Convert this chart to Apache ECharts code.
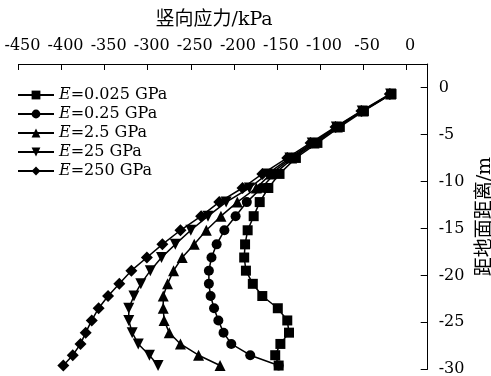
<!DOCTYPE html>
<html>
<head>
<meta charset="utf-8">
<script src="https://cdn.jsdelivr.net/npm/echarts@6/dist/echarts.min.js"></script>
<style>
  html, body { margin: 0; padding: 0; background: #fff; }
  #chart { width: 491px; height: 376px; }
</style>
</head>
<body>
<div id="chart"></div>
<script>
// depth below ground (m), shared by all series
const depthM = [-0.7, -2.5, -4.2, -5.9, -7.5, -9.2, -10.7, -12.2, -13.7, -15.2, -16.7,
  -18.1, -19.5, -20.9, -22.2, -23.5, -24.8, -26.1, -27.3, -28.5, -29.6]

// vertical stress (kPa) for each modulus
const stressE0025 = [-17, -49, -77, -103, -128, -147, -160, -170, -177, -184, -187,
  -188, -186, -178, -167, -149, -138, -136, -146, -152, -148]
const stressE025 = [-18, -50, -79, -105, -131, -153, -168, -185, -198, -211, -220,
  -226, -229, -229, -227, -223, -218, -212, -203, -181, -148]
const stressE2_5 = [-18, -50, -80, -107, -133, -157, -174, -196, -215, -232, -246,
  -260, -270, -277, -282, -282, -281, -275, -262, -241, -216]
const stressE25 = [-18, -51, -81, -109, -135, -161, -182, -209, -230, -250, -268,
  -284, -297, -308, -316, -322, -322, -318, -311, -298, -288]
const stressE250 = [-19, -52, -82, -111, -138, -167, -190, -217, -238, -262, -283,
  -301, -319, -333, -346, -357, -365, -372, -378, -387, -398]

const seriesNames = ['E=0.025 GPa', 'E=0.25 GPa', 'E=2.5 GPa', 'E=25 GPa', 'E=250 GPa']
const seriesValues = [stressE0025, stressE025, stressE2_5, stressE25, stressE250]
const seriesSymbols = ['rect', 'circle', 'triangle', 'triangle', 'diamond']
const symbolRotates = [0, 0, 0, 180, 0]
const symbolSizes = [10, 10, 11, 11, 12]

const serif = "'DejaVu Serif', 'Noto Sans CJK SC', serif"

const chart = echarts.init(document.getElementById('chart'))

chart.setOption({
  animation: false,
  textStyle: { fontFamily: serif, color: '#000' },
  grid: {
    left: 18.5,
    right: 63.3,
    top: 64,
    bottom: 6.7,
    outerBoundsMode: 'none',
  },
  legend: {
    orient: 'vertical',
    left: 17,
    top: 87,
    padding: 0,
    itemWidth: 36,
    itemHeight: 11,
    itemGap: 3,
    data: seriesNames,
    formatter: (name) => name.replace(/^E/, '{i|E}'),
    textStyle: {
      fontFamily: serif,
      fontSize: 16,
      lineHeight: 16,
      color: '#000',
      rich: {
        i: { fontFamily: serif, fontStyle: 'italic', fontSize: 16, color: '#000' },
      },
    },
  },
  xAxis: {
    type: 'value',
    position: 'top',
    min: -450,
    max: 25,
    interval: 50,
    name: '竖向应力/kPa',
    nameLocation: 'middle',
    nameGap: 34,
    nameTextStyle: { fontSize: 19, color: '#000', fontFamily: serif, padding: [0, 18, 0, 0] },
    axisLine: { show: true, onZero: false, lineStyle: { color: '#000', width: 1 } },
    axisTick: { show: true, inside: true, length: 6, lineStyle: { color: '#000' } },
    axisLabel: {
      margin: 10,
      fontSize: 16,
      color: '#000',
      padding: [0, 0, 0, 8],
      showMaxLabel: false,
      formatter: (v) => (v > 0 ? '' : String(v)),
    },
    splitLine: { show: false },
  },
  yAxis: {
    type: 'value',
    position: 'right',
    min: -30,
    max: 2.5,
    interval: 5,
    name: '距地面距离/m',
    nameLocation: 'middle',
    nameGap: 43,
    nameTextStyle: { fontSize: 19, color: '#000', fontFamily: serif },
    axisLine: { show: true, onZero: false, lineStyle: { color: '#000', width: 1 } },
    axisTick: { show: true, inside: true, length: 7, lineStyle: { color: '#000' } },
    axisLabel: {
      margin: 11,
      fontSize: 16,
      color: '#000',
      showMaxLabel: false,
      formatter: (v) => (v > 0 ? '' : String(v)),
    },
    splitLine: { show: false },
  },
  series: seriesNames.map((name, i) => ({
    name,
    type: 'line',
    data: seriesValues[i].map((x, j) => [x, depthM[j]]),
    symbol: seriesSymbols[i],
    symbolRotate: symbolRotates[i],
    symbolSize: symbolSizes[i],
    showAllSymbol: true,
    lineStyle: { color: '#000', width: 1.5 },
    itemStyle: { color: '#000' },
  })),
})
</script>
</body>
</html>
